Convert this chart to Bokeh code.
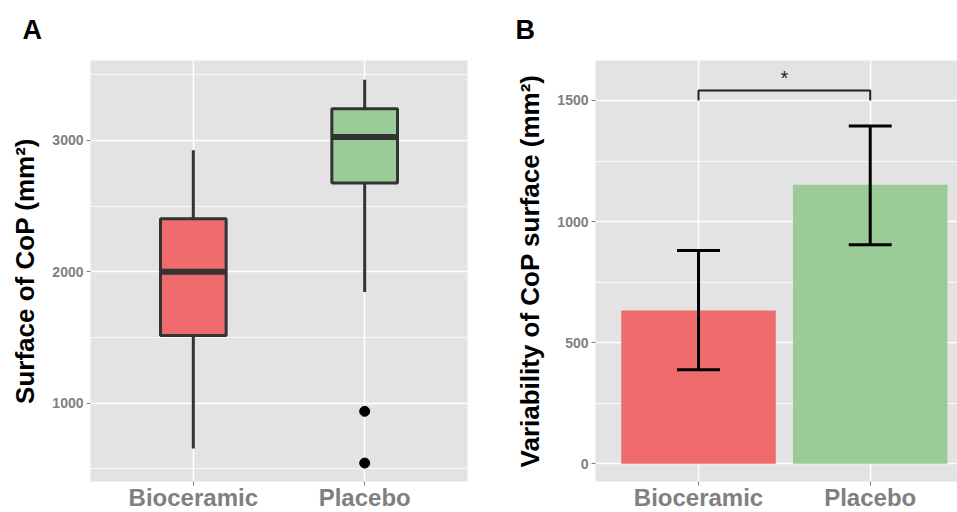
from bokeh.plotting import figure
from bokeh.layouts import row
from bokeh.models import Range1d, FixedTicker, SingleIntervalTicker, ColumnDataSource
from bokeh.core.properties import value
from bokeh.embed import file_html
from bokeh.resources import INLINE

# ---------------- data ----------------
categories = ["Bioceramic", "Placebo"]
colors = ["#F06B6B", "#9BCB96"]

# Panel A: box plot summary (Surface of CoP, mm^2)
box_lower = [653, 1845]
box_q1 = [1515, 2676]
box_median = [2000, 3026]
box_q3 = [2404, 3242]
box_upper = [2925, 3463]
outlier_group = ["Placebo", "Placebo"]
outlier_values = [937, 543]

# Panel B: bar chart with error bars (Variability of CoP surface, mm^2)
bar_means = [633, 1152]
err_low = [388, 904]
err_high = [881, 1395]
sig_pair = ["Bioceramic", "Placebo"]
sig_top = 1541
sig_base = 1500
sig_text = "*"

FONT = "Liberation Sans"
GRID_BG = "#E4E3E4"
TICK_GREY = "#808080"

xpos = {c: i + 1 for i, c in enumerate(categories)}
xs = [xpos[c] for c in categories]


def style(p, y_interval, ylabel, panel_letter, letter_offset):
    p.background_fill_color = GRID_BG
    p.border_fill_color = "white"
    p.outline_line_color = None
    p.xaxis.ticker = FixedTicker(ticks=xs)
    p.xaxis.major_label_overrides = {xpos[c]: c for c in categories}
    p.yaxis.ticker = SingleIntervalTicker(interval=y_interval, num_minor_ticks=2)
    p.xgrid.ticker = FixedTicker(ticks=xs)
    for ax in (p.xaxis, p.yaxis):
        ax.axis_line_color = None
        ax.major_tick_line_color = TICK_GREY
        ax.major_tick_line_width = 1
        ax.major_tick_in = 0
        ax.major_tick_out = 4
        ax.minor_tick_line_color = None
        ax.major_label_text_font = FONT
        ax.major_label_text_font_style = "bold"
        ax.major_label_text_color = TICK_GREY
    p.xaxis.major_label_text_font_size = "24px"
    p.xaxis.major_label_standoff = -2
    p.yaxis.major_label_text_font_size = "14px"
    p.yaxis.major_label_standoff = 3
    p.yaxis.axis_label = ylabel
    p.yaxis.axis_label_text_font = FONT
    p.yaxis.axis_label_text_font_style = "bold"
    p.yaxis.axis_label_text_font_size = "26px"
    p.yaxis.axis_label_text_color = "black"
    p.yaxis.axis_label_standoff = 9
    p.xgrid.grid_line_color = "white"
    p.xgrid.grid_line_width = 1.5
    p.ygrid.grid_line_color = "white"
    p.ygrid.grid_line_width = 1.5
    p.ygrid.minor_grid_line_color = "white"
    p.ygrid.minor_grid_line_width = 0.8
    p.title.text = panel_letter
    p.title.align = "left"
    p.title.vertical_align = "top"
    p.title.offset = letter_offset
    p.title.standoff = 28
    p.title.text_font = FONT
    p.title.text_font_style = "bold"
    p.title.text_font_size = "27px"
    p.title.text_color = "black"


FRAME_H = 421

# ---------------- Panel A ----------------
a_top = 3609
a_scale = 0.1313  # px per unit
pA = figure(frame_width=377, frame_height=FRAME_H, output_backend="svg", toolbar_location=None,
            x_range=Range1d(0.4, 2.6), y_range=Range1d(a_top - FRAME_H / a_scale, a_top),
            min_border_left=90, min_border_right=13, min_border_top=60, min_border_bottom=10)
style(pA, 1000, "Surface of CoP (mm²)", "A", -68)

srcA = ColumnDataSource(dict(x=xs, lower=box_lower, q1=box_q1, med=box_median, q3=box_q3,
                             upper=box_upper, color=colors))
pA.segment(x0="x", y0="q3", x1="x", y1="upper", source=srcA, line_color="#333333", line_width=3)
pA.segment(x0="x", y0="q1", x1="x", y1="lower", source=srcA, line_color="#333333", line_width=3)
pA.vbar(x="x", width=0.383, top="q3", bottom="q1", source=srcA, fill_color="color",
        line_color="#333333", line_width=3)
bw = 0.383 / 2
pA.segment(x0=[x - bw for x in xs], y0=box_median, x1=[x + bw for x in xs], y1=box_median,
           line_color="#333333", line_width=6)
pA.scatter(x=[xpos[g] for g in outlier_group], y=outlier_values, size=10, color="black")

# ---------------- Panel B ----------------
b_top = 1665
b_scale = 0.2422
B_FW = 362
pB = figure(frame_width=B_FW, frame_height=FRAME_H, output_backend="svg", toolbar_location=None,
            x_range=Range1d(0.4, 0.4 + B_FW / 171.7), y_range=Range1d(b_top - FRAME_H / b_scale, b_top),
            min_border_left=115, min_border_right=0, min_border_top=60, min_border_bottom=10)
style(pB, 500, "Variability of CoP surface (mm²)", "B", -80)

srcB = ColumnDataSource(dict(x=xs, mean=bar_means, lo=err_low, hi=err_high, color=colors))
pB.vbar(x="x", width=0.9, top="mean", bottom=0, source=srcB, fill_color="color", line_color=None)
pB.segment(x0="x", y0="lo", x1="x", y1="hi", source=srcB, line_color="black", line_width=3)
cw = 0.125
pB.segment(x0=[x - cw for x in xs], y0=err_high, x1=[x + cw for x in xs], y1=err_high,
           line_color="black", line_width=3)
pB.segment(x0=[x - cw for x in xs], y0=err_low, x1=[x + cw for x in xs], y1=err_low,
           line_color="black", line_width=3)
s0, s1 = xpos[sig_pair[0]], xpos[sig_pair[1]]
pB.line(x=[s0, s0, s1, s1], y=[sig_base, sig_top, sig_top, sig_base], line_color="#222222",
        line_width=2)
pB.text(x=[(s0 + s1) / 2], y=[sig_top + 50], text=[sig_text], text_font=value(FONT),
        text_font_size="20px", text_color="#222222", text_align="center", text_baseline="middle")

layout = row(pA, pB, spacing=0)
open("out.html", "w").write(file_html(layout, INLINE))
